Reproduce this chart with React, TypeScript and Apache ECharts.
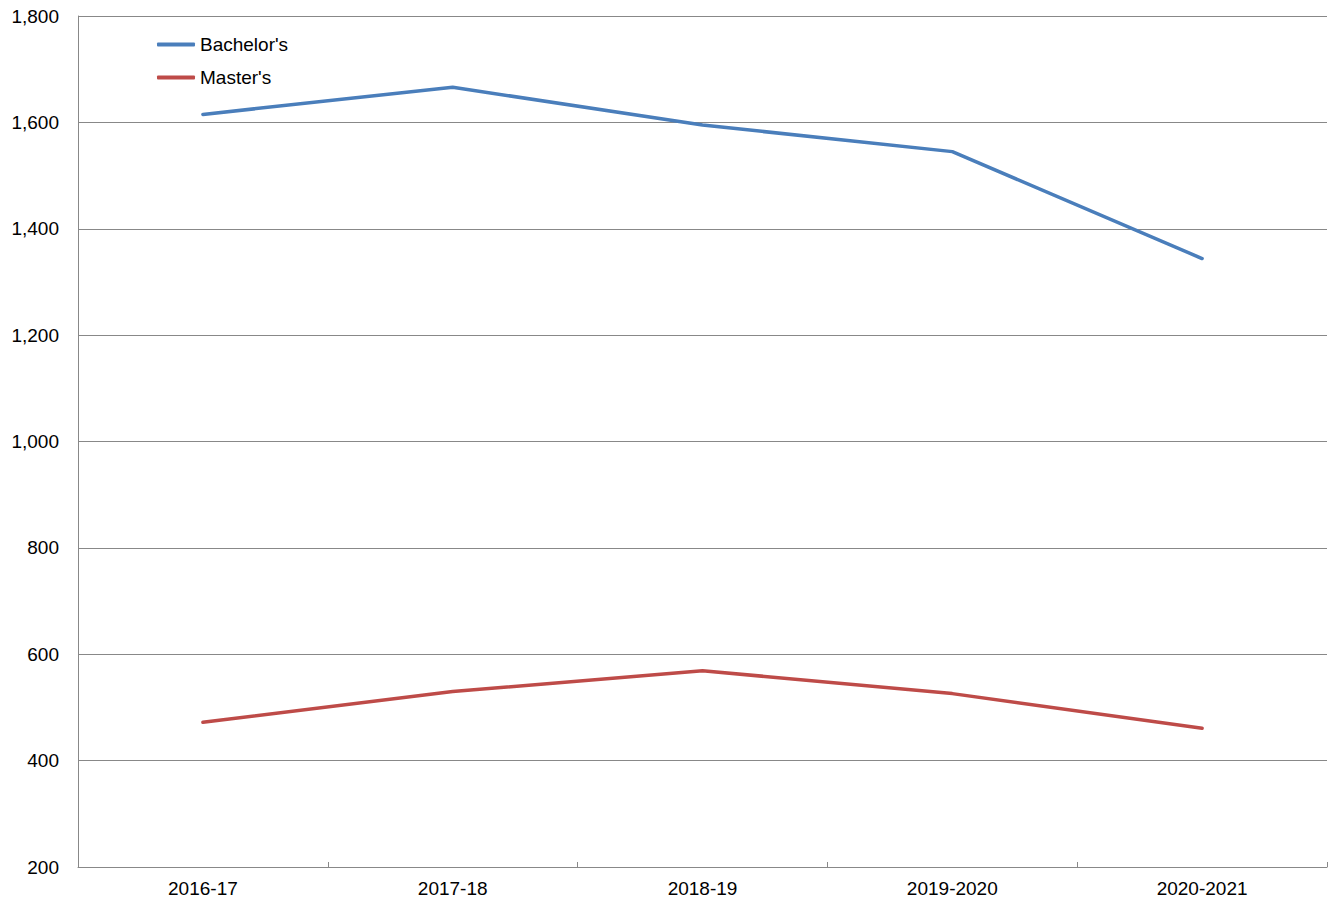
import React, { useEffect, useRef } from "react";
import * as echarts from "echarts";

const categories = ["2016-17", "2017-18", "2018-19", "2019-2020", "2020-2021"];
const bachelors = [1615, 1666, 1595, 1545, 1344];
const masters = [472, 530, 569, 526, 461];
const seriesNames = ["Bachelor's", "Master's"];
const colors = ["#4A7EBB", "#BE4B48"];

export default function App() {
  const ref = useRef<HTMLDivElement>(null);
  useEffect(() => {
    const chart = echarts.init(ref.current!, null, { renderer: "svg" });
    const font = "'Liberation Sans', Arial, sans-serif";
    chart.setOption({
      animation: false,
      color: colors,
      textStyle: { fontFamily: font },
      grid: { left: 78, right: 11, top: 16, bottom: 38, containLabel: false },
      legend: {
        orient: "vertical",
        left: 152,
        top: 30,
        itemGap: 14,
        itemWidth: 38,
        itemHeight: 4,
        icon: "roundRect",
        textStyle: { fontSize: 19, color: "#000", fontFamily: font },
        data: seriesNames,
      },
      xAxis: {
        type: "category",
        data: categories,
        boundaryGap: true,
        axisLine: { lineStyle: { color: "#888", width: 1 } },
        axisTick: { show: true, inside: true, length: 5, lineStyle: { color: "#888" } },
        axisLabel: { color: "#000", fontSize: 19, margin: 12, fontFamily: font },
        splitLine: { show: false },
      },
      yAxis: {
        type: "value",
        min: 200,
        max: 1800,
        interval: 200,
        axisLine: { show: true, lineStyle: { color: "#888", width: 1 } },
        axisTick: { show: false },
        axisLabel: {
          color: "#000",
          fontSize: 19,
          margin: 19,
          fontFamily: font,
          formatter: (v: number) => v.toLocaleString("en-US"),
        },
        splitLine: { lineStyle: { color: "#888", width: 1 } },
      },
      series: [
        {
          name: seriesNames[0],
          type: "line",
          data: bachelors,
          symbol: "none",
          lineStyle: { width: 3.5, color: colors[0], cap: "round", join: "round" },
          itemStyle: { color: colors[0] },
        },
        {
          name: seriesNames[1],
          type: "line",
          data: masters,
          symbol: "none",
          lineStyle: { width: 3.5, color: colors[1], cap: "round", join: "round" },
          itemStyle: { color: colors[1] },
        },
      ],
    });
    return () => chart.dispose();
  }, []);
  return <div ref={ref} style={{ width: 1338, height: 905, margin: -8 }} />;
}
